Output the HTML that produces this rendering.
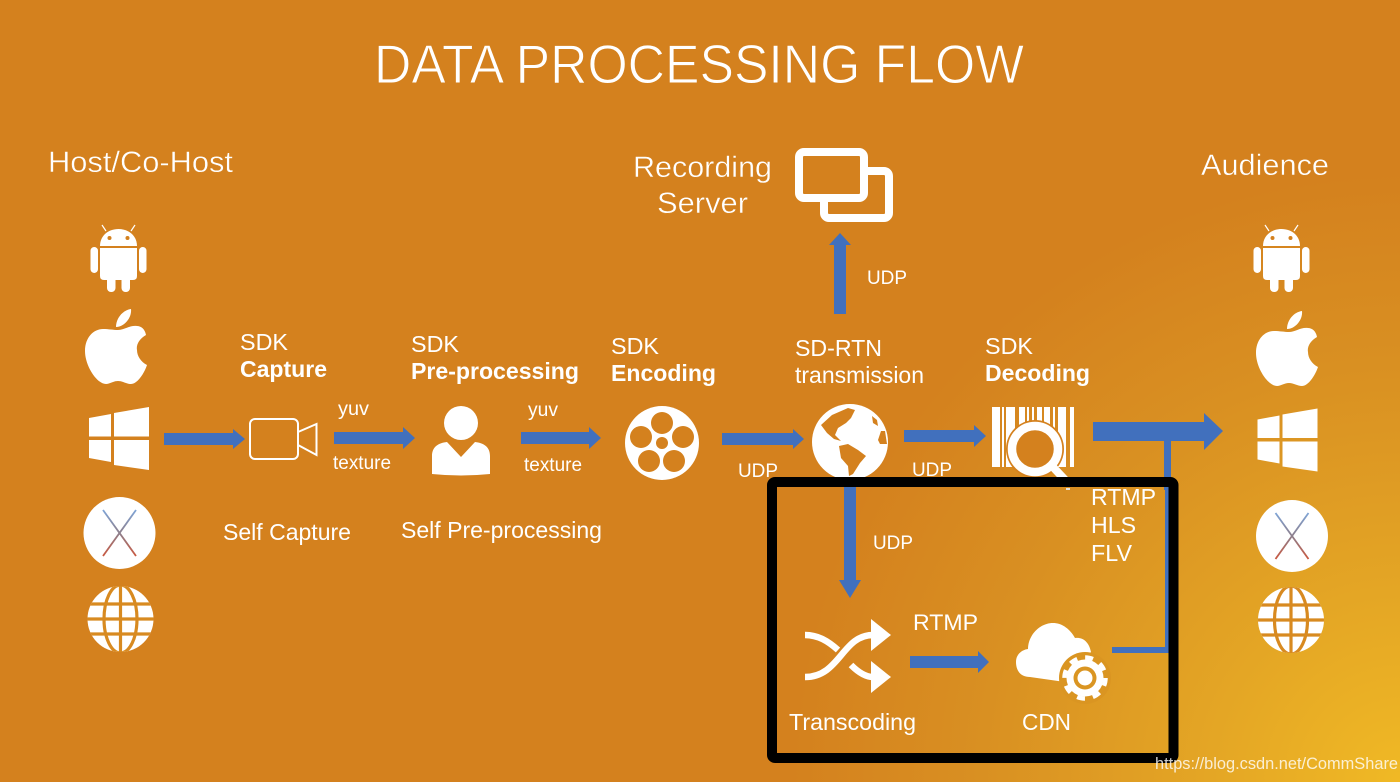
<!DOCTYPE html>
<html>
<head>
<meta charset="utf-8">
<style>
html,body{margin:0;padding:0;background:#d4811e}
svg{display:block}
text{font-family:"Liberation Sans",sans-serif;fill:#fff}
.b{font-weight:700}
.t{stroke:#d4811e;stroke-width:1;paint-order:fill stroke}
.m{stroke:#d4811e;stroke-width:.4;paint-order:fill stroke}
</style>
</head>
<body>
<svg width="1400" height="782" viewBox="0 0 1400 782" xmlns="http://www.w3.org/2000/svg">
<defs>
<radialGradient id="bg" gradientUnits="userSpaceOnUse" cx="1400" cy="782" r="760">
<stop offset="0" stop-color="#f0b925"/>
<stop offset=".25" stop-color="#e4a625"/>
<stop offset=".55" stop-color="#d99022"/>
<stop offset=".8" stop-color="#d4811e"/>
<stop offset="1" stop-color="#d4811e"/>
</radialGradient>
<linearGradient id="xg" x1="0" y1="0" x2="0" y2="1">
<stop offset="0" stop-color="#7fa4d6"/>
<stop offset=".5" stop-color="#8d7f8c"/>
<stop offset="1" stop-color="#c9583f"/>
</linearGradient>
<clipPath id="wc"><circle cx="120.500" cy="619" r="33"/></clipPath>
<g id="android" fill="#fff">
<path d="M100,246 C100,236 108,229 118.500,229 C129,229 137,236 137,246 Z"/>
<path d="M100,248 H137 V276 Q137,280 133,280 H104 Q100,280 100,276 Z"/>
<rect x="90.500" y="247" width="7.500" height="26" rx="3.700"/>
<rect x="139" y="247" width="7.500" height="26" rx="3.700"/>
<rect x="107" y="276" width="8.500" height="16" rx="4"/>
<rect x="121.500" y="276" width="8.500" height="16" rx="4"/>
<path d="M106,231 L102,225 M131,231 L135,225" stroke="#fff" stroke-width="1.200"/>
<circle cx="109.500" cy="238" r="2" fill="#d4811e"/>
<circle cx="127.500" cy="238" r="2" fill="#d4811e"/>
</g>
<g id="apple" fill="#fff">
<path d="M116,327 C116,318 123,310 131,309 C132,318 124,327 116,327 Z"/>
<path d="M118,330 C124,330 130,325 137,326 C141,326 145,329 146,335 C139,339 136,345 137,350 C137,356 141,362 147,365 C144,374 137,384 131,384 C126,384 123,381 118,381 C113,381 110,384 106,384 C97,384 85,366 85,351 C85,337 94,329 103,329 C109,329 113,330 118,330 Z"/>
</g>
<g id="windows" fill="#fff">
<path d="M89,418 L111,414 V436.500 H89 Z"/>
<path d="M114,413 L149,407 V436.500 H114 Z"/>
<path d="M89,440 H111 V462 L89,458 Z"/>
<path d="M114,440 H149 V470 L114,465 Z"/>
</g>
<g id="macx">
<circle cx="119.500" cy="533" r="36" fill="#fff"/>
<path d="M103,510 L136,556" stroke="url(#xg)" stroke-width="1.800" fill="none"/>
<path d="M136,510 L103,556" stroke="url(#xg)" stroke-width="1.800" fill="none"/>
</g>
<g id="www">
<circle cx="120.500" cy="619" r="33" fill="#fff"/>
<g fill="none" stroke="#d88a20" stroke-width="3.200" clip-path="url(#wc)">
<path d="M86,604 H155 M86,619 H155 M86,634 H155"/>
<path d="M120.500,584 V654"/>
<ellipse cx="120.500" cy="619" rx="16.500" ry="34"/>
</g>
</g>
</defs>

<rect width="1400" height="782" fill="url(#bg)"/>

<text x="374" y="83" font-size="55" class="t" textLength="650" lengthAdjust="spacingAndGlyphs">DATA PROCESSING FLOW</text>
<text x="48" y="172" font-size="30" class="m" textLength="185" lengthAdjust="spacingAndGlyphs">Host/Co-Host</text>
<text x="633" y="177" font-size="30" class="m" textLength="139" lengthAdjust="spacingAndGlyphs">Recording</text>
<text x="657" y="213" font-size="30" class="m" textLength="91" lengthAdjust="spacingAndGlyphs">Server</text>
<text x="1201" y="175" font-size="30" class="m" textLength="128" lengthAdjust="spacingAndGlyphs">Audience</text>

<!-- recording server icon -->
<rect x="824" y="171" width="65" height="47" rx="5" fill="none" stroke="#fff" stroke-width="8"/>
<rect x="799" y="152" width="65" height="46" rx="5" fill="#d4811e" stroke="#fff" stroke-width="8"/>

<use href="#android"/><use href="#apple"/><use href="#windows"/><use href="#macx"/><use href="#www"/>
<g transform="translate(1163,0)"><use href="#android"/></g>
<g transform="translate(1171,2)"><use href="#apple"/></g>
<g transform="translate(1168.500,1.500)"><use href="#windows"/></g>
<g transform="translate(1172.500,3)"><use href="#macx"/></g>
<g transform="translate(1170.500,1)"><use href="#www"/></g>

<!-- step labels -->
<text x="240" y="350" font-size="23" textLength="48" lengthAdjust="spacingAndGlyphs">SDK</text>
<text x="240" y="377" font-size="23" class="b" textLength="87" lengthAdjust="spacingAndGlyphs">Capture</text>
<text x="411" y="352" font-size="23" textLength="48" lengthAdjust="spacingAndGlyphs">SDK</text>
<text x="411" y="379" font-size="23" class="b" textLength="168" lengthAdjust="spacingAndGlyphs">Pre-processing</text>
<text x="611" y="354" font-size="23" textLength="48" lengthAdjust="spacingAndGlyphs">SDK</text>
<text x="611" y="381" font-size="23" class="b" textLength="105" lengthAdjust="spacingAndGlyphs">Encoding</text>
<text x="795" y="356" font-size="23" textLength="87" lengthAdjust="spacingAndGlyphs">SD-RTN</text>
<text x="795" y="383" font-size="23" textLength="129" lengthAdjust="spacingAndGlyphs">transmission</text>
<text x="985" y="354" font-size="23" textLength="48" lengthAdjust="spacingAndGlyphs">SDK</text>
<text x="985" y="381" font-size="23" class="b" textLength="105" lengthAdjust="spacingAndGlyphs">Decoding</text>

<text x="338" y="415" font-size="19" textLength="31" lengthAdjust="spacingAndGlyphs">yuv</text>
<text x="528" y="416" font-size="19" textLength="30" lengthAdjust="spacingAndGlyphs">yuv</text>
<text x="333" y="469" font-size="19" textLength="58" lengthAdjust="spacingAndGlyphs">texture</text>
<text x="524" y="471" font-size="19" textLength="58" lengthAdjust="spacingAndGlyphs">texture</text>
<text x="223" y="540" font-size="23" textLength="128" lengthAdjust="spacingAndGlyphs">Self Capture</text>
<text x="401" y="538" font-size="23" textLength="201" lengthAdjust="spacingAndGlyphs">Self Pre-processing</text>
<text x="738" y="477" font-size="19" textLength="40" lengthAdjust="spacingAndGlyphs">UDP</text>
<text x="912" y="476" font-size="19" textLength="40" lengthAdjust="spacingAndGlyphs">UDP</text>
<text x="867" y="284" font-size="19" textLength="40" lengthAdjust="spacingAndGlyphs">UDP</text>
<text x="873" y="549" font-size="19" textLength="40" lengthAdjust="spacingAndGlyphs">UDP</text>

<!-- arrows -->
<g fill="#4170bd">
<path d="M164,433 H233 V429 L245,439 L233,449 V445 H164 Z"/>
<path d="M334,432 H403 V427 L415,438 L403,449 V444 H334 Z"/>
<path d="M521,432 H589 V427 L601,438 L589,449 V444 H521 Z"/>
<path d="M722,433 H793 V429 L804,439 L793,449 V445 H722 Z"/>
<path d="M904,430 H974 V425 L986,436 L974,447 V442 H904 Z"/>
<path d="M1093,422 H1204 V413 L1223,431 L1204,450 V441 H1093 Z"/>
<path d="M834,314 V245 H829 L840,233 L851,245 H846 V314 Z"/>
<path d="M844,478 V580 H839 L850,598 L861,580 H856 V478 Z"/>
<path d="M910,656 H978 V651 L989,662 L978,673 V668 H910 Z"/>
<rect x="1164" y="440" width="7" height="50"/>
<rect x="1165" y="480" width="5" height="173"/>
<rect x="1112" y="647" width="57" height="6"/>
</g>

<!-- camera -->
<rect x="250" y="419" width="48" height="40" rx="5" fill="none" stroke="#fff" stroke-width="2"/>
<path d="M298,432 L316.500,424 V455 L298,445" fill="none" stroke="#fff" stroke-width="2"/>

<!-- person -->
<circle cx="461" cy="423" r="17" fill="#fff"/>
<path d="M432,456 C432,447 438,443 447,442 L461,457 L475,442 C484,443 490,447 490,456 V474 Q461,477 432,474 Z" fill="#fff"/>

<!-- reel -->
<circle cx="662" cy="443" r="37" fill="#fff"/>
<g fill="#d4811e">
<circle cx="662" cy="443" r="6"/>
<circle cx="662" cy="423" r="11"/>
<circle cx="683" cy="437" r="11"/>
<circle cx="674" cy="461" r="11"/>
<circle cx="649" cy="461" r="11"/>
<circle cx="641" cy="437" r="11"/>
</g>

<!-- earth -->
<circle cx="850" cy="442" r="38" fill="#fff"/>
<g fill="#d4811e">
<path d="M821,425 L832,415 L848,408 L855,410 L851,418 L846,423 L838,428 L835,435 L841,441 L834,439 L827,433 Z"/>
<path d="M839,446 L848,444 L858,450 L866,456 L860,463 L853,474 L849,476 L848,466 L841,458 Z"/>
<path d="M872,416 L877,420 L878,426 L873,423 Z"/>
<path d="M881,431 L885,431 L887,444 L880,444 L878,440 Z"/>
</g>

<!-- barcode -->
<g fill="#fff">
<rect x="992" y="407" width="8" height="60"/>
<rect x="1002" y="407" width="2" height="60"/>
<rect x="1006" y="407" width="9" height="60"/>
<rect x="1019" y="407" width="6" height="40"/>
<rect x="1027" y="407" width="2" height="40"/>
<rect x="1032" y="407" width="2" height="40"/>
<rect x="1037" y="407" width="5" height="40"/>
<rect x="1044" y="407" width="6" height="40"/>
<rect x="1053" y="407" width="2" height="40"/>
<rect x="1058" y="407" width="8" height="60"/>
<rect x="1070" y="407" width="4" height="60"/>
</g>
<circle cx="1035" cy="449" r="29" fill="#d4811e"/>
<circle cx="1035" cy="449" r="23" fill="#d4811e" stroke="#fff" stroke-width="8.500"/>
<path d="M1052,466 L1069,484" stroke="#fff" stroke-width="8" fill="none"/>

<!-- black box -->
<rect x="772" y="482" width="401.500" height="276" rx="3" fill="none" stroke="#000" stroke-width="10"/>
<path d="M1066,489 L1070,489" stroke="#e9e4dc" stroke-width="2"/>

<text x="1091" y="505" font-size="23" textLength="65" lengthAdjust="spacingAndGlyphs">RTMP</text>
<text x="1091" y="533" font-size="23" textLength="45" lengthAdjust="spacingAndGlyphs">HLS</text>
<text x="1091" y="561" font-size="23" textLength="41" lengthAdjust="spacingAndGlyphs">FLV</text>
<text x="913" y="630" font-size="22" textLength="65" lengthAdjust="spacingAndGlyphs">RTMP</text>
<text x="789" y="730" font-size="23" textLength="127" lengthAdjust="spacingAndGlyphs">Transcoding</text>
<text x="1022" y="730" font-size="23" textLength="49" lengthAdjust="spacingAndGlyphs">CDN</text>

<!-- shuffle -->
<g fill="none" stroke="#fff" stroke-width="6.500">
<path d="M805,677 C840,677 842,635 873,635"/>
<path d="M805,635 C818,635 828,641 838,650"/>
<path d="M851,665 C858,672 865,677 873,677"/>
</g>
<path d="M871,619 L891,635 L871,651 Z" fill="#fff"/>
<path d="M871,661 L891,677 L871,693 Z" fill="#fff"/>

<!-- cloud + gear -->
<path d="M1030,677 C1020,677 1016,670 1016,662 C1016,655 1021,650 1028,649 C1028,635 1040,623 1053,623 C1062,623 1070,629 1075,638 C1083,637 1089,642 1091,652 L1065,682 Z" fill="#fff"/>
<circle cx="1085" cy="678" r="26" fill="#da9522"/>
<circle cx="1085" cy="678" r="18.500" fill="#fff"/>
<circle cx="1085" cy="678" r="20.500" fill="none" stroke="#fff" stroke-width="4.500" stroke-dasharray="8 8.100"/>
<circle cx="1085" cy="678" r="11.500" fill="#da9522"/>
<circle cx="1085" cy="678" r="7.500" fill="#fff"/>

<text x="1155" y="769" font-size="17" fill-opacity=".8" textLength="243" lengthAdjust="spacingAndGlyphs">https://blog.csdn.net/CommShare</text>
</svg>
</body>
</html>
